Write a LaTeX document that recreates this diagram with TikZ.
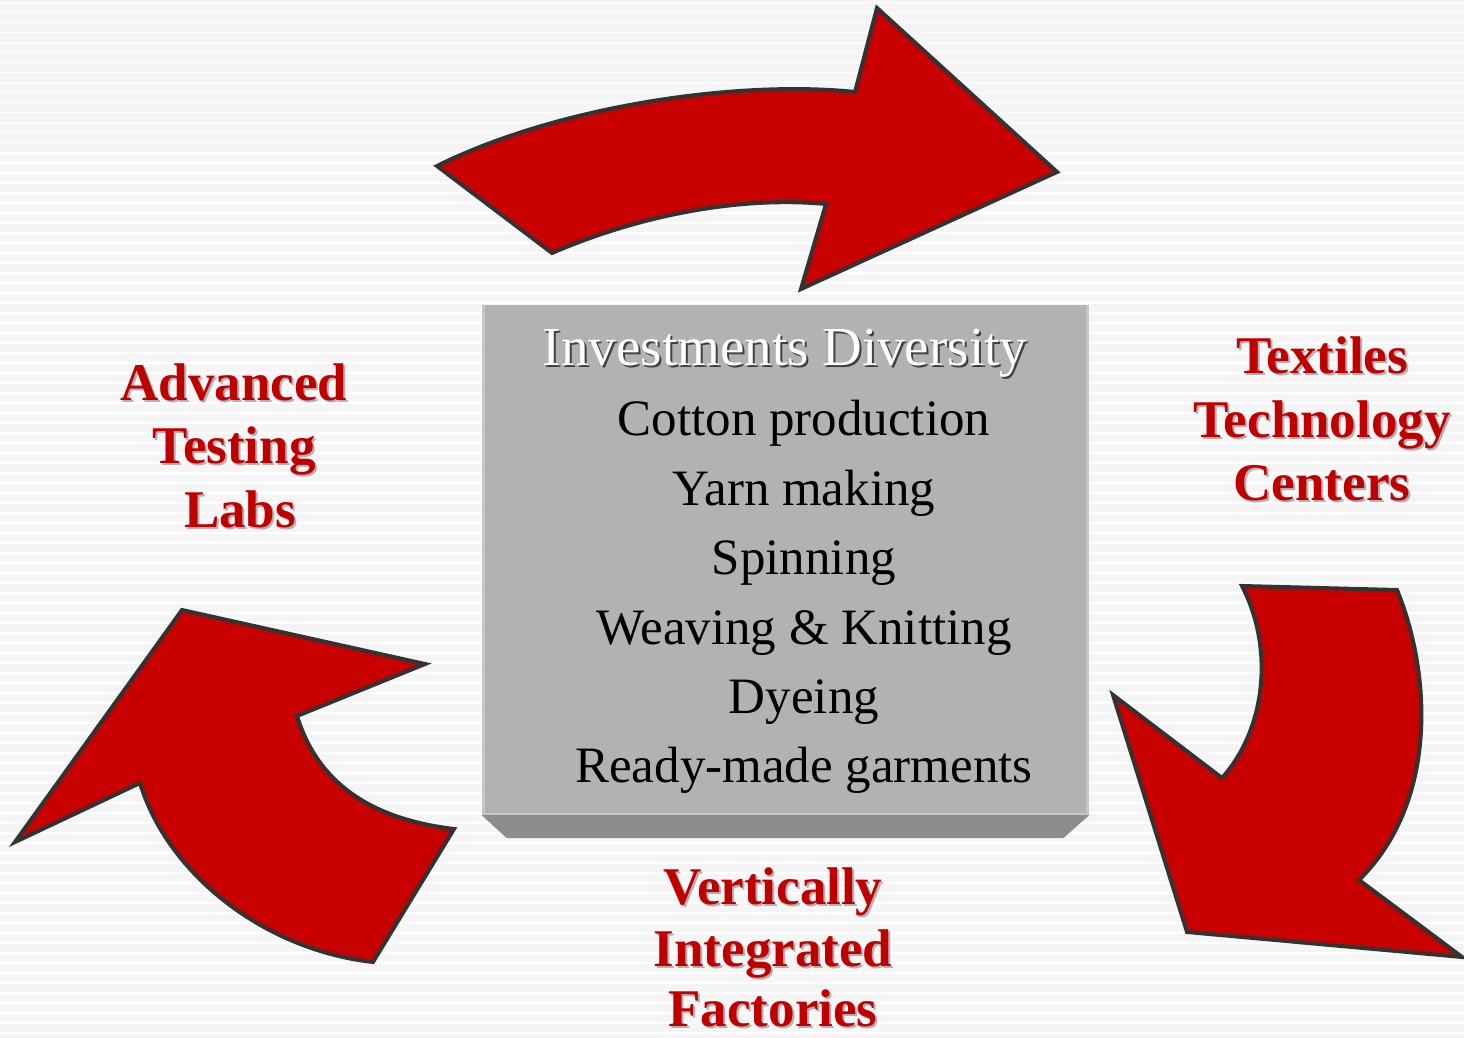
\documentclass[tikz,border=0pt]{standalone}
\usepackage{fontspec}
\setmainfont{Liberation Serif}
\definecolor{bgcol}{HTML}{F5F5F5}
\definecolor{arrowred}{HTML}{C80000}
\definecolor{textred}{HTML}{C00000}
\definecolor{outlinecol}{HTML}{333333}
\definecolor{boxface}{HTML}{B2B2B2}
\definecolor{boxbevel}{HTML}{8C8C8C}
\definecolor{boxlight}{HTML}{C6C6C6}
\begin{document}
\begin{tikzpicture}[x=1pt,y=-1pt,
  bigarrow/.style={fill=arrowred, draw=outlinecol, line width=4pt, line join=miter, miter limit=4},
  redlabel/.style={font=\fontsize{53}{60}\selectfont\bfseries, text=textred, inner sep=0pt, anchor=base},
  redshadow/.style={redlabel, text=black!30},
  itemtext/.style={font=\fontsize{51}{57}\selectfont, text=black, inner sep=0pt, anchor=base},
  titletext/.style={font=\fontsize{55}{60}\selectfont, text=white, inner sep=0pt, anchor=base},
  titleshadow/.style={titletext, text=black!75}
]
\useasboundingbox (0,0) rectangle (1464,1038);
% background
\fill[bgcol] (0,0) rectangle (1464,1038);
\foreach \i in {0,...,103} \fill[white] (0,\i*10+2) rectangle (1464,\i*10+3.5);

% arrows
\draw[bigarrow] (437,166) -- (552,253) .. controls (640,215) and (740,196) .. (826,204)
  -- (801,289) -- (1057,172) -- (877,8) -- (855,92)
  .. controls (740,80) and (560,105) .. (437,166) -- cycle;
\draw[bigarrow] (1242,586) -- (1397,590) .. controls (1430,670) and (1440,800) .. (1359,880)
  -- (1462,957) -- (1187,932) -- (1113,695) -- (1222,778)
  .. controls (1265,730) and (1275,650) .. (1242,586) -- cycle;
\draw[bigarrow] (15,842) -- (182,610) -- (425,664) -- (297,716)
  .. controls (320,790) and (380,820) .. (454,829) -- (373,962)
  .. controls (265,950) and (168,875) .. (140,783) -- cycle;

% box
\node[fill=boxface, inner sep=0pt, minimum width=607pt, minimum height=510pt] (box) at (785.5,560) {};
\fill[boxbevel] (box.south west) -- (box.south east) -- ([xshift=-26pt,yshift=-23pt]box.south east) -- ([xshift=25pt,yshift=-23pt]box.south west) -- cycle;
\fill[boxlight] (box.north west) rectangle ([xshift=3pt]box.south west);
\fill[boxlight] ([xshift=-3pt]box.north east) rectangle (box.south east);
\fill[boxlight] ([yshift=2pt]box.south west) rectangle (box.south east);

% box texts
\node[titleshadow] (titles) at (787,367) {Investments Diversity};
\node[titletext] (title) at (785,365) {Investments Diversity};
\node[itemtext] (i1) at (804,435) {Cotton production};
\node[itemtext] (i2) at (804,505) {Yarn making};
\node[itemtext] (i3) at (804,574) {Spinning};
\node[itemtext] (i4) at (804,644) {Weaving \& Knitting};
\node[itemtext] (i5) at (804,713) {Dyeing};
\node[itemtext] (i6) at (804,782) {Ready-made garments};

% left label
\node[redshadow] (l1s) at (236,402) {Advanced};
\node[redlabel] (l1) at (234,400) {Advanced};
\node[redshadow] (l2s) at (236,465) {Testing};
\node[redlabel] (l2) at (234,463) {Testing};
\node[redshadow] (l3s) at (242,529) {Labs};
\node[redlabel] (l3) at (240,527) {Labs};

% right label
\node[redshadow] (r1s) at (1324,375) {Textiles};
\node[redlabel] (r1) at (1322,373) {Textiles};
\node[redshadow] (r2s) at (1324,439) {Technology};
\node[redlabel] (r2) at (1322,437) {Technology};
\node[redshadow] (r3s) at (1324,502) {Centers};
\node[redlabel] (r3) at (1322,500) {Centers};

% bottom label
\node[redshadow] (b1s) at (775,906) {Vertically};
\node[redlabel] (b1) at (773,904) {Vertically};
\node[redshadow] (b2s) at (775,968) {Integrated};
\node[redlabel] (b2) at (773,966) {Integrated};
\node[redshadow] (b3s) at (775,1028) {Factories};
\node[redlabel] (b3) at (773,1026) {Factories};
\end{tikzpicture}
\end{document}
